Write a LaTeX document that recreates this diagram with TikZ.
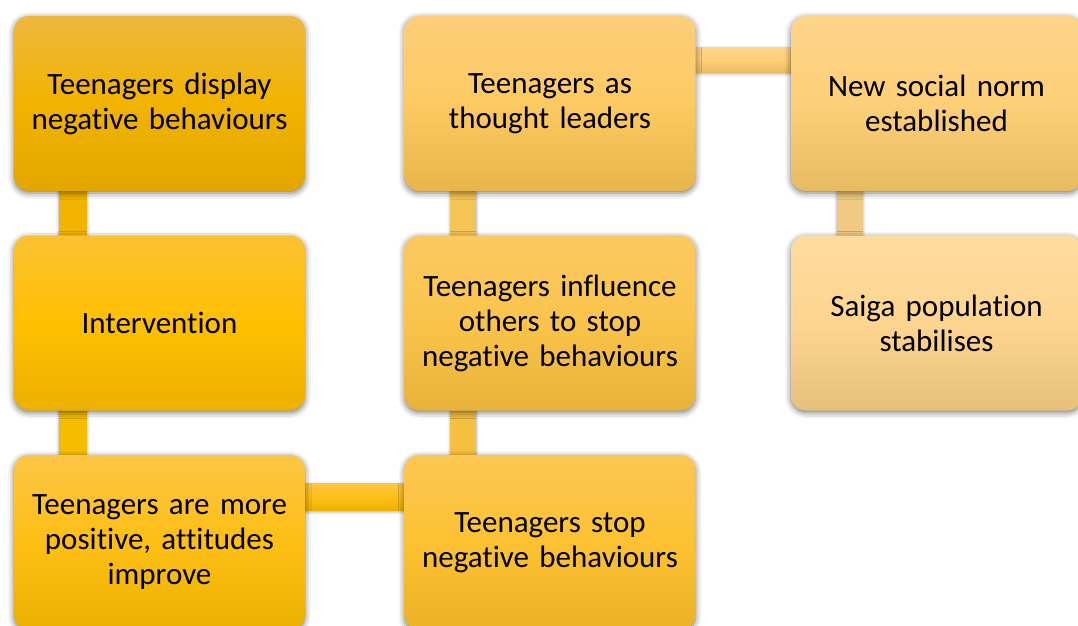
\documentclass[tikz,border=0pt]{standalone}
\usepackage{fontspec}
\setmainfont{Carlito}[Ligatures=NoCommon,WordSpace={0.85,0,0}]
\usetikzlibrary{shadows.blur,calc,backgrounds}
\definecolor{aT}{RGB}{237,184,62}\definecolor{aM}{RGB}{242,179,0}\definecolor{aB}{RGB}{226,166,0}
\definecolor{bT}{RGB}{252,193,50}\definecolor{bM}{RGB}{255,192,0}\definecolor{bB}{RGB}{236,176,0}
\definecolor{cT}{RGB}{253,197,70}\definecolor{cM}{RGB}{253,191,20}\definecolor{cB}{RGB}{235,176,0}
\definecolor{dT}{RGB}{252,198,82}\definecolor{dM}{RGB}{252,194,50}\definecolor{dB}{RGB}{236,178,40}
\definecolor{eT}{RGB}{251,201,98}\definecolor{eM}{RGB}{250,196,75}\definecolor{eB}{RGB}{233,178,58}
\definecolor{fT}{RGB}{253,206,122}\definecolor{fM}{RGB}{253,202,98}\definecolor{fB}{RGB}{232,181,74}
\definecolor{gT}{RGB}{253,212,138}\definecolor{gM}{RGB}{253,207,120}\definecolor{gB}{RGB}{232,186,98}
\definecolor{hT}{RGB}{254,219,158}\definecolor{hM}{RGB}{253,213,144}\definecolor{hB}{RGB}{230,192,124}
\definecolor{k1}{RGB}{243,180,0}\definecolor{k2}{RGB}{245,188,0}\definecolor{k4}{RGB}{245,192,64}
\definecolor{k5}{RGB}{244,196,85}\definecolor{k7}{RGB}{240,201,130}
\begin{document}
\begin{tikzpicture}[x=1pt,y=-1pt,
  box/.style={rounded corners=15pt, minimum width=291pt, minimum height=175pt,
    inner sep=0pt, align=center, text width=280pt,
    font=\fontsize{31}{35}\selectfont,
    blur shadow={shadow xshift=0pt, shadow yshift=-2pt, shadow blur radius=6pt, shadow opacity=55}},
  conn/.style={blur shadow={shadow xshift=0pt, shadow yshift=-1pt, shadow blur radius=3pt, shadow opacity=35}}]
\useasboundingbox (0,0) rectangle (1078,625);

\node[box, top color=aT, bottom color=aB, middle color=aM] (n1) at (159.5,103.5) {Teenagers display\\negative behaviours};
\node[box, top color=bT, bottom color=bB, middle color=bM] (n2) at (159.5,323) {Intervention};
\node[box, top color=cT, bottom color=cB, middle color=cM] (n3) at (159.5,542.5) {Teenagers are more\\positive, attitudes\\improve};
\node[box, top color=dT, bottom color=dB, middle color=dM] (n4) at (550,542.5) {Teenagers stop\\negative behaviours};
\node[box, top color=eT, bottom color=eB, middle color=eM] (n5) at (550,323) {Teenagers influence\\others to stop\\negative behaviours};
\node[box, top color=fT, bottom color=fB, middle color=fM] (n6) at (550,103.5) {Teenagers as\\thought leaders};
\node[box, top color=gT, bottom color=gB, middle color=gM] (n7) at (936.5,103.5) {New social norm\\established};
\node[box, top color=hT, bottom color=hB, middle color=hM] (n8) at (936.5,323) {Saiga population\\stabilises};

\begin{scope}[on background layer]
\fill[conn, k1] ($(n1.south west)+(45,0)$) rectangle ($(n2.north west)+(73,0)$);
\fill[conn, k2] ($(n2.south west)+(45,0)$) rectangle ($(n3.north west)+(73,0)$);
\fill[conn, top color=cT, bottom color=cB, middle color=cM] ($(n3.north east)+(0,29)$) rectangle ($(n4.north west)+(0,56)$);
\fill[conn, k4] ($(n4.north west)+(46,0)$) rectangle ($(n5.south west)+(72,0)$);
\fill[conn, k5] ($(n5.north west)+(46,0)$) rectangle ($(n6.south west)+(72,0)$);
\fill[conn, top color=gT, bottom color=gB, middle color=gM] ($(n6.north east)+(0,32)$) rectangle ($(n7.north west)+(0,57)$);
\fill[conn, k7] ($(n7.south west)+(46,0)$) rectangle ($(n8.north west)+(72,0)$);
\end{scope}
\end{tikzpicture}
\end{document}
